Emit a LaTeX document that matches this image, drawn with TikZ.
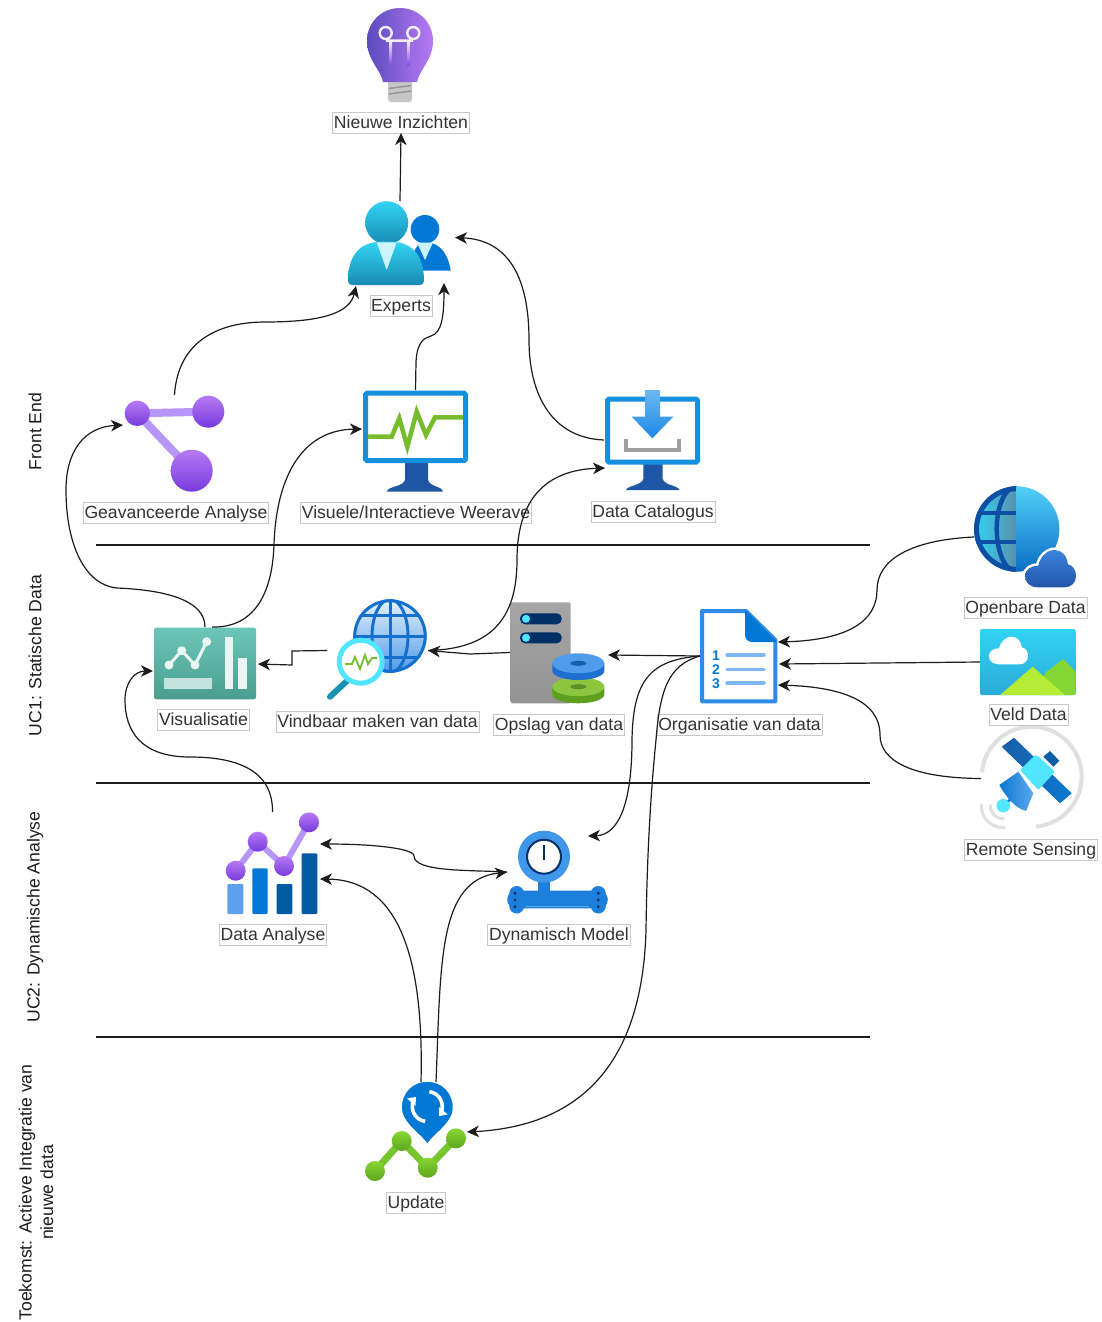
\documentclass[tikz,border=0pt]{standalone}
\usepackage{fontspec}
\setmainfont{Liberation Sans}
\usetikzlibrary{arrows.meta,calc}
\definecolor{ink}{HTML}{1C1C1C}
\definecolor{labtext}{HTML}{333333}
\definecolor{boxline}{HTML}{C8C8C8}
\definecolor{pplA}{HTML}{B77AF4}
\definecolor{pplB}{HTML}{773ADC}
\definecolor{pplL}{HTML}{B796F9}
\definecolor{monB}{HTML}{1490DF}
\definecolor{monD}{HTML}{1F56A3}
\definecolor{grn}{HTML}{76BC2D}
\definecolor{azure}{HTML}{0078D4}
\definecolor{cyn}{HTML}{32D4F5}
\definecolor{cynD}{HTML}{198AB3}
\definecolor{navy}{HTML}{003067}
\definecolor{deep}{HTML}{005BA1}
\newcommand{\mkcol}[1]{\definecolor{HTML#1}{HTML}{#1}}
\mkcol{5B4BBD}\mkcol{6BB9F2}\mkcol{1E88E5}\mkcol{5A8FA8}\mkcol{0D4FA5}\mkcol{50D0F8}\mkcol{0A6EC4}\mkcol{3A84E0}\mkcol{2455A8}
\mkcol{2AAAD8}\mkcol{86D633}\mkcol{B4EC36}\mkcol{0A5FA8}\mkcol{0A78D0}\mkcol{50E6FF}\mkcol{5EA8F0}\mkcol{2E8BE6}\mkcol{7DB8F5}
\mkcol{5E9F1E}\mkcol{8CC63F}\mkcol{5E8F2E}\mkcol{1E6FD0}\mkcol{4F9BEC}\mkcol{1A5FA8}\mkcol{EAF3FC}\mkcol{4A98E8}\mkcol{1470CF}
\mkcol{1A93B0}\mkcol{6CC6B8}\mkcol{4A9E8F}\mkcol{C4E4DF}\mkcol{EAF6F3}\mkcol{5EA0EF}\mkcol{1B7FDB}\mkcol{3F97EA}\mkcol{76C62E}\mkcol{5EA51E}
\mkcol{E0E0E0}
\tikzset{
  iconbox/.style={inner sep=0pt,outer sep=0pt,minimum width=#1},
  lab/.style={draw=boxline,line width=0.7pt,fill=white,text=labtext,font=\fontsize{17.6}{20}\selectfont,inner xsep=1.3pt,inner ysep=0pt,minimum height=21pt,text height=14.5pt,text depth=2.7pt,outer sep=0pt},
  side/.style={rotate=90,text=ink,font=\fontsize{17.6}{20}\selectfont,inner sep=0pt},
  conn/.style={draw=ink,line width=1.2pt,-{Stealth[length=12pt,width=11.5pt,inset=3.5pt]}},
  sep/.style={draw=ink,line width=1.1pt}
}
\newcommand{\cloudshape}{(.25,1) .. controls (.08,1) and (0,.85) .. (0,.7) .. controls (0,.52) and (.12,.42) .. (.26,.42) .. controls (.3,.15) and (.45,0) .. (.58,0) .. controls (.72,0) and (.82,.15) .. (.84,.38) .. controls (.95,.42) and (1,.55) .. (1,.7) .. controls (1,.88) and (.9,1) .. (.78,1) -- cycle}
\begin{document}
\begin{tikzpicture}[x=1pt,y=-1pt]
\useasboundingbox (0,0) rectangle (1102,1322);
\fill[white] (0,0) rectangle (1102,1322);

% ---------- invisible frames of the icons
\node[iconbox=66pt,minimum height=94pt]  (bulb) at (400,55) {};
\node[iconbox=104pt,minimum height=85pt] (exp)  at (400,243.5) {};
\node[iconbox=101pt,minimum height=97pt] (geav) at (174.5,443.5) {};
\node[iconbox=105pt,minimum height=102pt] (vis) at (415.5,441) {};
\node[iconbox=96pt,minimum height=100pt] (cat)  at (652,440) {};
\node[iconbox=102pt,minimum height=102pt] (open) at (1025,537) {};
\node[iconbox=96pt,minimum height=66pt]  (veld) at (1028,662) {};
\node[iconbox=100pt,minimum height=101pt] (rem) at (1031,778.5) {};
\node[iconbox=77pt,minimum height=94pt]  (doc)  at (738.5,656) {};
\node[iconbox=95pt,minimum height=101pt] (ops)  at (557.5,652.5) {};
\node[iconbox=103pt,minimum height=101pt] (vind) at (376.5,650.5) {};
\node[iconbox=102pt,minimum height=72pt] (visu) at (205,663) {};
\node[iconbox=93pt,minimum height=102pt] (da)   at (272.5,863) {};
\node[iconbox=101pt,minimum height=84pt] (dyn)  at (557.5,872) {};
\node[iconbox=101pt,minimum height=101pt] (upd) at (415.5,1131.5) {};

% ---------- bulb
\fill[gray!45,rounded corners=3pt] (388,80) rectangle (412,102);
\draw[gray!85,line width=1.4pt] (389,88.5)--(411,85.5) (389,94)--(411,91);
\shade[left color=HTML5B4BBD,right color=pplA]
  (383,82) .. controls (381,70) and (367,60) .. (367,41)
  .. controls (367,22) and (382,8) .. (400,8)
  .. controls (418,8) and (433,22) .. (433,41)
  .. controls (433,60) and (419,70) .. (417,82) -- cycle;
\draw[white!85!pplL,line width=2.4pt] (385.7,33) circle[radius=6] (413.3,33) circle[radius=6] (386,40.7) -- (413,40.7);
\shade[top color=white!85!pplL,bottom color=pplB!80!pplA] (389.6,41) rectangle (392,66);
\shade[top color=white!85!pplL,bottom color=pplB!80!pplA] (407,41) rectangle (409.4,66);

% ---------- experts
\fill[azure] (425,229.3) circle[radius=14.3];
\fill[azure] (410,270.7) .. controls (412,250) and (418,242) .. (425,242) .. controls (442,242) and (449,258) .. (450.7,270.7) -- cycle;
\fill[white!75!cyn] (417,242.5) -- (433,242.5) -- (425,260) -- cycle;
\shade[top color=cyn,bottom color=cynD] (386.7,222.7) circle[radius=21.5];
\shade[top color=cyn,bottom color=cynD,rounded corners=4pt]
  (348,285) .. controls (348,255) and (360,241.7) .. (386,241.7) .. controls (412,241.7) and (424,255) .. (424,285) -- cycle;
\fill[white!75!cyn] (376.7,242.3) -- (396.7,242.3) -- (386.7,270) -- cycle;

% ---------- advanced analysis
\draw[pplL,line width=8pt] (137.3,413.3) -- (208.3,411.7) (137.3,413.3) -- (191.7,470.7);
\shade[top color=pplA,bottom color=pplB] (137.3,413.3) circle[radius=12.7];
\shade[top color=pplA,bottom color=pplB] (208.3,411.7) circle[radius=16];
\shade[top color=pplA,bottom color=pplB] (191.7,470.7) circle[radius=21];

% ---------- monitor with pulse
\fill[monD] (386.7,491.7) .. controls (388,486) and (403,487) .. (405,480) -- (405,463) -- (428,463) -- (428,480) .. controls (430,487) and (442,486) .. (443,491.7) -- cycle;
\draw[monB,line width=5pt,fill=white,rounded corners=1.5pt] (365.5,393.2) rectangle (465.5,460.5);
\draw[grn,line width=4.5pt,line join=miter] (368,436.7) -- (391.7,436.7) -- (399.3,418.3) -- (407.3,446.7) -- (416.7,411.7) -- (426,435) -- (435,417.3) -- (463,417.3);

% ---------- monitor with download
\fill[monD] (626,490) .. controls (628,485) and (641,486) .. (643.3,479) -- (643.3,464) -- (662.7,464) -- (662.7,479) .. controls (665,486) and (678,485) .. (679.3,490) -- cycle;
\draw[monB,line width=5pt,fill=white,rounded corners=1.5pt] (607.5,399.2) rectangle (697.5,462);
\shade[top color=HTML6BB9F2,bottom color=HTML1E88E5] (645,390) -- (660,390) -- (660,416.7) -- (673.3,416.7) -- (652.4,438.3) -- (631.7,416.7) -- (645,416.7) -- cycle;
\draw[gray!75,line width=4pt] (626,439) -- (626,449.5) -- (679,449.5) -- (679,439);

% ---------- open data
\shade[left color=cyn,right color=HTML5A8FA8] (1016.7,486.3) arc[start angle=-90,end angle=-270,radius=42.7] -- cycle;
\begin{scope}
  \clip (1016.7,486.3) arc[start angle=-90,end angle=-270,radius=42.7] -- cycle;
  \draw[HTML0D4FA5,line width=4.5pt] (1016.7,529) circle[x radius=20,y radius=42.7];
  \draw[HTML0D4FA5,line width=4.5pt] (970,513) -- (1020,513) (970,542) -- (1020,542);
  \draw[HTML0D4FA5,line width=5pt] (1016.7,529) circle[radius=40.2];
\end{scope}
\shade[top color=HTML50D0F8,bottom color=HTML0A6EC4] (1016.7,486.3) arc[start angle=-90,end angle=90,radius=42.7] -- cycle;
\begin{scope}[shift={(1025,550)},x=51pt,y=-37.3pt]
  \fill[white,draw=white,line width=5pt] \cloudshape;
  \shade[top color=HTML3A84E0,bottom color=HTML2455A8] \cloudshape;
\end{scope}

% ---------- field data
\begin{scope}
  \clip[rounded corners=2pt] (980,629) rectangle (1075.7,695);
  \shade[top color=cyn,bottom color=HTML2AAAD8] (980,629) rectangle (1075.7,695);
  \fill[HTML86D633] (1045,673) -- (1063.3,659) -- (1075.7,672) -- (1075.7,695) -- (1040,695) -- cycle;
  \fill[HTMLB4EC36] (1000,695) -- (1032.7,666.7) -- (1065,695) -- cycle;
\end{scope}
\begin{scope}[shift={(989,636.7)},x=39pt,y=-27.6pt]
  \fill[white] \cloudshape;
\end{scope}

% ---------- remote sensing
\draw[HTMLE0E0E0,line width=4pt] ([shift={(-175:50)}]1031.7,776.7) arc[start angle=-175,end angle=85,radius=50];
\draw[HTMLE0E0E0,line width=3pt] ([shift={(85:13)}]1003.3,805.7) arc[start angle=85,end angle=185,radius=13];
\draw[HTMLE0E0E0,line width=3pt] ([shift={(85:22)}]1003.3,805.7) arc[start angle=85,end angle=185,radius=22];
\shade[left color=HTML1A5FA8,right color=HTML0A78D0] (1001.7,746.7) -- (1014,737.7) -- (1071.7,793.3) -- (1060,803.3) -- cycle;
\fill[HTML0A5FA8] (1043.3,756.7) -- (1050,751) -- (1059.3,760.7) -- (1053.3,766.7) -- cycle;
\draw[HTML0A78D0,line width=2.5pt] (1003.3,805.7) -- (1014,796);
\shade[left color=HTML0A78D0,right color=HTML5EA8F0] (999.3,785) -- (1018.3,771.7) -- (1033.3,793.3) -- (1026,811) .. controls (1015,808) and (1006,797) .. (999.3,785) -- cycle;
\fill[HTML50E6FF,rounded corners=2pt] (1036,754.3) -- (1055,771.7) -- (1038.3,790) -- (1020,770) -- cycle;
\fill[HTML50E6FF] (1003.3,805.7) circle[radius=6.7];

% ---------- document
\draw[HTML2E8BE6,line width=4pt,fill=white,line join=round] (702,611) -- (746,611) -- (775.3,640) -- (775.3,701.3) -- (702,701.3) -- cycle;
\fill[azure] (745,610) -- (777,642) -- (752,642) .. controls (748,642) and (745,639) .. (745,635) -- cycle;
\draw[HTML7DB8F5,line width=3.5pt,line cap=round] (727,655) -- (764,655) (727,669.3) -- (764,669.3) (727,683) -- (764,683);
\node[font=\bfseries\fontsize{14}{14}\selectfont,text=azure,inner sep=0pt] (numa) at (716,655.7) {1};
\node[font=\bfseries\fontsize{14}{14}\selectfont,text=azure,inner sep=0pt] (numb) at (716,669.5) {2};
\node[font=\bfseries\fontsize{14}{14}\selectfont,text=azure,inner sep=0pt] (numc) at (716,684) {3};

% ---------- storage
\shade[top color=gray!70,bottom color=gray!85,rounded corners=2pt] (510.7,602.3) rectangle (570.7,703.3);
\fill[navy,rounded corners=5pt] (520,613.3) rectangle (561.7,624.3);
\fill[navy,rounded corners=5pt] (520,632.3) rectangle (561.7,643.3);
\fill[HTML50E6FF] (526,618.8) circle[radius=4] (526,637.8) circle[radius=4];
\fill[HTML5E9F1E] (552.3,686.7) -- (552.3,694.5) arc[start angle=180,end angle=0,x radius=26,y radius=8.8] -- (604.3,686.7) -- cycle;
\fill[HTML8CC63F] (578.3,686.7) circle[x radius=26,y radius=9.5];
\fill[HTML5E8F2E] (578.3,686.7) circle[x radius=8,y radius=2.5];
\fill[HTML1E6FD0] (552.3,663.3) -- (552.3,671) arc[start angle=180,end angle=0,x radius=26,y radius=9] -- (604.3,663.3) -- cycle;
\fill[HTML4F9BEC] (578.3,663.3) circle[x radius=26,y radius=10];
\fill[HTML1A5FA8] (578.3,663.3) circle[x radius=8,y radius=2.5];

% ---------- findable
\begin{scope}
  \clip (390,636) circle[radius=36.7];
  \shade[top color=HTMLEAF3FC,bottom color=HTML4A98E8] (350,598) rectangle (430,674);
  \draw[HTML1470CF,line width=3pt] (390,636) circle[x radius=18,y radius=36.7];
  \draw[HTML1470CF,line width=3pt] (390,598) -- (390,674) (350,615) -- (430,615) (350,636) -- (430,636) (350,657) -- (430,657);
\end{scope}
\draw[HTML1470CF,line width=3pt] (390,636) circle[radius=35.2];
\draw[HTML1A93B0,line width=6pt,line cap=round] (348,680) -- (330,696.7);
\draw[HTML50E6FF,line width=5pt,fill=white] (360.7,661.7) circle[radius=21.5];
\draw[grn,line width=1.8pt] (345,664) -- (352,664) -- (355,657) -- (360,669) -- (365,655) -- (368,664) -- (372,658) -- (377,658);

% ---------- visualisation
\shade[top color=HTML6CC6B8,bottom color=HTML4A9E8F,rounded corners=2pt] (154.3,627.7) rectangle (256,699.3);
\fill[HTMLC4E4DF] (164,678.3) rectangle (212.3,689.3);
\fill[HTMLEAF6F3] (225,636.7) rectangle (233.3,689.3);
\fill[HTMLEAF6F3] (238.3,658.3) rectangle (246.7,689.3);
\draw[HTMLEAF6F3,line width=3pt] (169,665) -- (181.7,650.7) -- (195,665) -- (206.7,641.7);
\fill[HTMLEAF6F3] (169,665) circle[radius=4.5] (181.7,650.7) circle[radius=4.5] (195,665) circle[radius=4.5] (206.7,641.7) circle[radius=4.5];

% ---------- data analysis
\fill[HTML5EA0EF,rounded corners=1pt] (227.3,884) rectangle (243.3,914);
\fill[azure,rounded corners=1pt] (252.3,868.3) rectangle (267.7,914);
\fill[deep,rounded corners=1pt] (276.7,884) rectangle (292.3,914);
\fill[deep,rounded corners=1pt] (301.7,853.3) rectangle (317.3,914);
\draw[pplL,line width=6pt] (235.7,870.7) -- (257.7,841.7) -- (284,866) -- (309,822.3);
\shade[top color=pplA,bottom color=pplB] (235.7,870.7) circle[radius=10];
\shade[top color=pplA,bottom color=pplB] (257.7,841.7) circle[radius=10];
\shade[top color=pplA,bottom color=pplB] (284,866) circle[radius=10];
\shade[top color=pplA,bottom color=pplB] (309,822.3) circle[radius=10];

% ---------- dynamic model
\fill[HTML1B7FDB] (538,870) rectangle (550,892);
\fill[HTML3F97EA] (544,856.7) circle[radius=26];
\draw[navy,line width=2pt,fill=white] (544,856.7) circle[radius=17];
\draw[navy,line width=2.4pt] (544,845) -- (544,860);
\fill[HTML1B7FDB,rounded corners=3pt] (510,890.7) rectangle (605,908.3);
\fill[HTML1B7FDB] (516.7,899.7) circle[radius=9.5] (598.3,899.7) circle[radius=9.5] (516.7,893.5) circle[radius=7.5] (598.3,893.5) circle[radius=7.5] (516.7,906) circle[radius=7.5] (598.3,906) circle[radius=7.5];
\draw[HTML5EA8F0,line width=0.7pt] (526,906.5) -- (589,906.5);
\fill[navy] (515,893.3) circle[radius=1.6] (515,900) circle[radius=1.6] (515,906.7) circle[radius=1.6] (598.3,893.3) circle[radius=1.6] (598.3,900) circle[radius=1.6] (598.3,906.7) circle[radius=1.6];

% ---------- update
\draw[HTML76C62E,line width=7pt] (375,1171) -- (401.7,1141) -- (427.7,1167.7) -- (456,1138.3);
\shade[top color=HTML86D633,bottom color=HTML5EA51E] (375,1171) circle[radius=10];
\shade[top color=HTML86D633,bottom color=HTML5EA51E] (401.7,1141) circle[radius=10];
\shade[top color=HTML86D633,bottom color=HTML5EA51E] (427.7,1167.7) circle[radius=10];
\shade[top color=HTML86D633,bottom color=HTML5EA51E] (456,1138.3) circle[radius=10];
\fill[azure,draw=white,line width=2.5pt] (427.3,1145.5) .. controls (420,1134) and (400.6,1124) .. (400.6,1107.5) .. controls (400.6,1092) and (412,1080.5) .. (427.3,1080.5) .. controls (442.6,1080.5) and (454,1092) .. (454,1107.5) .. controls (454,1124) and (434.6,1134) .. (427.3,1145.5) -- cycle;
\draw[white,line width=3.6pt,-{Triangle[length=7pt,width=11pt]}] ([shift={(-262:15)}]427.3,1106.5) arc[start angle=-262,end angle=-140,radius=15];
\draw[white,line width=3.6pt,-{Triangle[length=7pt,width=11pt]}] ([shift={(-82:15)}]427.3,1106.5) arc[start angle=-82,end angle=40,radius=15];

% ---------- labels
\node[lab] (lbulb) at (401,122.5) {Nieuwe Inzichten};
\node[lab] (lexp)  at (401,305.5) {Experts};
\node[lab] (lgeav) at (176,512.5) {Geavanceerde Analyse};
\node[lab] (lvis)  at (416,512.5) {Visuele/Interactieve Weerave};
\node[lab] (lcat)  at (653,511.5) {Data Catalogus};
\node[lab] (lopen) at (1025.5,608) {Openbare Data};
\node[lab] (lveld) at (1028.5,715) {Veld Data};
\node[lab] (lrem)  at (1031,849.5) {Remote Sensing};
\node[lab] (ldoc)  at (739.5,724.5) {Organisatie van data};
\node[lab] (lops)  at (559,724.5) {Opslag van data};
\node[lab] (lvind) at (377.5,721.5) {Vindbaar maken van data};
\node[lab] (lvisu) at (203.5,719.5) {Visualisatie};
\node[lab] (lda)   at (273,934.5) {Data Analyse};
\node[lab] (ldyn)  at (559,934.5) {Dynamisch Model};
\node[lab] (lupd)  at (416,1202.5) {Update};

% ---------- side titles
\node[side] (sfront) at (35,431.5) {Front End};
\node[side] (suca)   at (35,655.5) {UC1: Statische Data};
\node[side] (sucb)   at (35,917) {UC2: Dynamische Analyse};
\node[side,align=center] (sfut) at (36,1192.5) {Toekomst: Actieve Integratie van\\[1.5pt]nieuwe data};

% ---------- separators
\coordinate (sa1) at (96,545);   \coordinate (sa2) at (870,545);
\coordinate (sb1) at (96,783);   \coordinate (sb2) at (870,783);
\coordinate (sc1) at (96,1037);  \coordinate (sc2) at (870,1037);
\draw[sep] (sa1) -- (sa2);
\draw[sep] (sb1) -- (sb2);
\draw[sep] (sc1) -- (sc2);

% ---------- connectors
\draw[conn] (exp.north) -- (lbulb.south);
\draw[conn] (geav.north) .. controls (178,340) and (220,322) .. (265,322) .. controls (325,322) and (350,312) .. ([shift={(8,0)}]exp.south west);
\draw[conn] (vis.north) -- (416,362) .. controls (417,342) and (424,338) .. (431,336) .. controls (442,333) and (444,315) .. ([shift={(-8,-3)}]exp.south east);
\draw[conn] (cat.west) .. controls (552,438) and (529,395) .. (529,340) .. controls (529,280) and (510,240) .. ([shift={(3,-6)}]exp.east);
\draw[conn] (vind.east) .. controls (490,649) and (517,620) .. (517,560) .. controls (517,500) and (545,470) .. ([shift={(1,28)}]cat.west);
\draw[conn] (ops.west) -- (470,654) -- (vind.east);
\draw[conn] ([shift={(2,0)}]vind.west) -- (292,651) -- (292,665) -- ([shift={(2,1)}]visu.east);
\draw[conn] (visu.north) .. controls (205,600) and (165,590) .. (117,588) .. controls (85,585) and (66,545) .. (66,490) .. controls (66,450) and (85,427) .. ([shift={(-1,-18.5)}]geav.west);
\draw[conn] ([shift={(7,0)}]visu.north) .. controls (250,628) and (272,600) .. (274,545) .. controls (276,480) and (300,430) .. ([shift={(-1,-12)}]vis.west);
\draw[conn] (da.north) .. controls (273,772) and (240,757) .. (190,757) .. controls (140,757) and (125,730) .. (125,700) .. controls (125,682) and (135,671) .. ([shift={(-1,8)}]visu.west);
\draw[conn] (dyn.west) .. controls (470,870) and (414,872) .. (414,856) .. controls (414,848) and (370,844) .. ([shift={(1,-19)}]da.east);
\draw[conn] ([shift={(20.5,1)}]upd.north) .. controls (441,960) and (438,880) .. (dyn.west);
\draw[conn] ([shift={(5.5,1)}]upd.north) .. controls (424,960) and (400,880) .. ([shift={(1,16)}]da.east);
\draw[conn] (doc.west) -- ([shift={(3,2.5)}]ops.east);
\draw[conn] (doc.west) .. controls (650,660) and (633,680) .. (632,740) .. controls (632,800) and (620,835) .. ([shift={(-20,6)}]dyn.north east);
\draw[conn] (doc.west) .. controls (668,665) and (660,690) .. (656,740) .. controls (650,800) and (647,860) .. (646,930) .. controls (643,1040) and (600,1125) .. ([shift={(1,0.5)}]upd.east);
\draw[conn] (open.west) .. controls (910,540) and (877,560) .. (877,590) .. controls (877,620) and (850,640) .. ([shift={(1,-14)}]doc.east);
\draw[conn] (veld.west) -- ([shift={(2,8)}]doc.east);
\draw[conn] (rem.west) .. controls (910,778) and (880,760) .. (880,735) .. controls (880,700) and (840,687) .. ([shift={(1,29)}]doc.east);
\end{tikzpicture}
\end{document}
